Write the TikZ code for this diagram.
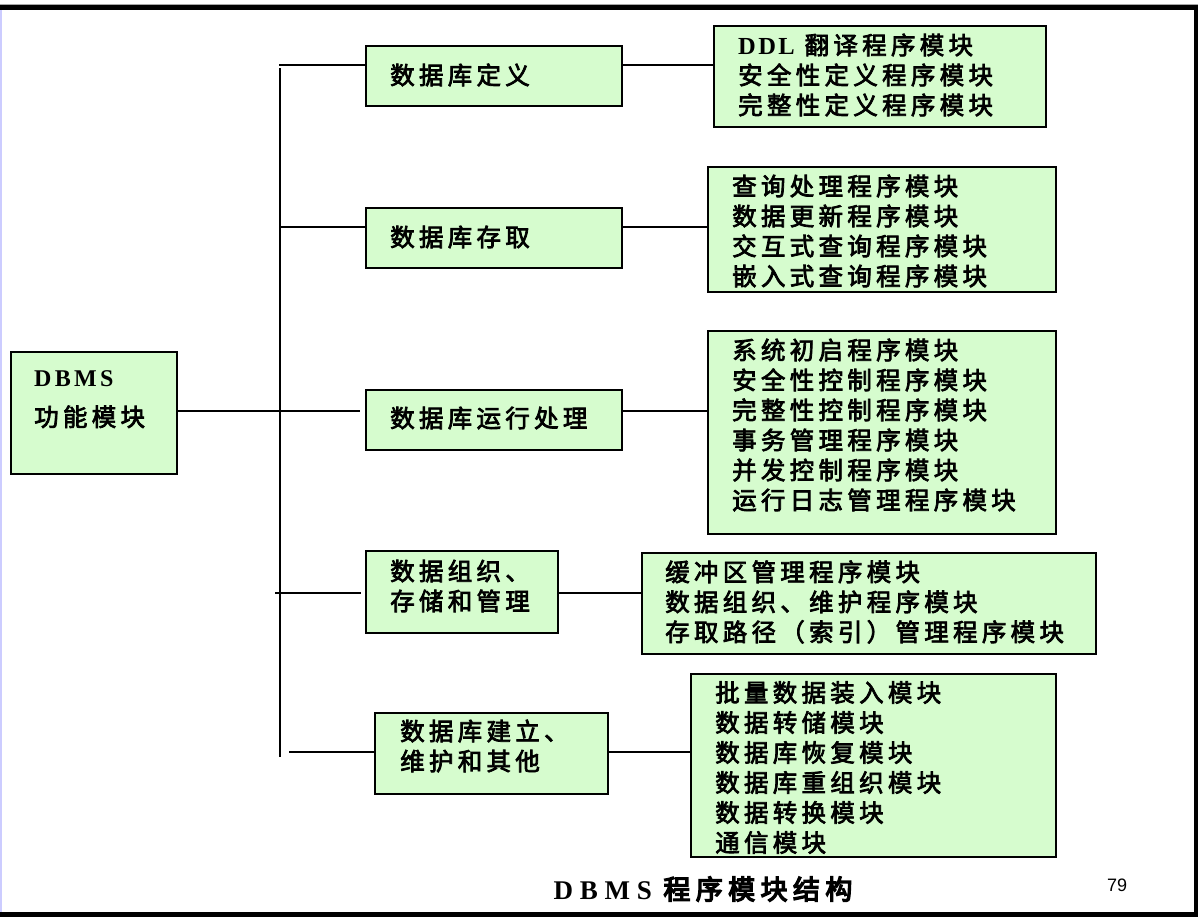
\documentclass[tikz,border=0pt]{standalone}
\usepackage{fontspec}
\setmainfont{Noto Sans CJK SC}[LetterSpace=17.5, FakeBold=3]
\newfontfamily\lat{Liberation Serif}[LetterSpace=10]
\newfontfamily\numfont{Liberation Sans}
\definecolor{boxgreen}{RGB}{214,252,206}
\definecolor{lavender}{RGB}{204,204,255}
\tikzset{
  box/.style={draw=black, line width=1.6pt, fill=boxgreen, anchor=north west, inner sep=0pt},
  txt/.style={anchor=west, inner sep=0pt, align=left, font=\fontsize{24.5}{30}\selectfont},
  conn/.style={line width=1.4pt, draw=black}
}
\begin{document}
\begin{tikzpicture}[x=1pt,y=-1pt]
\useasboundingbox (0,0) rectangle (1198,918);
% frame
\fill[gray!70] (0,3.5) rectangle (1198,5);
\fill[black] (0,4.5) rectangle (1198,9.5);
\fill[black] (1194,4.5) rectangle (1198,917);
\fill[black] (0,912) rectangle (1198,917);
\fill[lavender] (0,9.5) rectangle (2.2,912);

% root
\node[box, minimum width=166pt, minimum height=122pt] (root) at (10,351) {};
\node[txt, anchor=north west, font=\fontsize{24.5}{40}\selectfont] (troot) at (34,370) {{\lat\bfseries\fontsize{24}{40}\selectfont\addfontfeature{LetterSpace=14}DBMS}\\功能模块};

% level 1
\node[box, minimum width=256pt, minimum height=60pt] (b1) at (365,45) {};
\node[txt] (tb1) at (390,75) {数据库定义};
\node[box, minimum width=256pt, minimum height=60pt] (b2) at (365,207) {};
\node[txt] (tb2) at (390,237) {数据库存取};
\node[box, minimum width=256pt, minimum height=60pt] (b3) at (365,389) {};
\node[txt] (tb3) at (390,418) {数据库运行处理};
\node[box, minimum width=192pt, minimum height=82pt] (b4) at (365,550) {};
\node[txt] (tb4) at (390,586) {数据组织、\\存储和管理};
\node[box, minimum width=233pt, minimum height=81pt] (b5) at (374,712) {};
\node[txt] (tb5) at (400,746) {数据库建立、\\维护和其他};

% level 2
\node[box, minimum width=332pt, minimum height=101pt] (a1) at (713,25) {};
\node[txt] (ta1) at (738,75) {{\lat\bfseries DDL} 翻译程序模块\\安全性定义程序模块\\完整性定义程序模块};
\node[box, minimum width=348pt, minimum height=125pt] (a2) at (707,166) {};
\node[txt] (ta2) at (732,231) {查询处理程序模块\\数据更新程序模块\\交互式查询程序模块\\嵌入式查询程序模块};
\node[box, minimum width=348pt, minimum height=203pt] (a3) at (707,330) {};
\node[txt] (ta3) at (732,425) {系统初启程序模块\\安全性控制程序模块\\完整性控制程序模块\\事务管理程序模块\\并发控制程序模块\\运行日志管理程序模块};
\node[box, minimum width=454pt, minimum height=101pt] (a4) at (641,552) {};
\node[txt] (ta4) at (665,602) {缓冲区管理程序模块\\数据组织、维护程序模块\\存取路径（索引）管理程序模块};
\node[box, minimum width=365pt, minimum height=183pt] (a5) at (690,673) {};
\node[txt] (ta5) at (715,767.5) {批量数据装入模块\\数据转储模块\\数据库恢复模块\\数据库重组织模块\\数据转换模块\\通信模块};

% connectors
\coordinate (trunkTop) at (280,68);
\coordinate (trunkBot) at (280,757);
\draw[conn] (trunkTop) -- (trunkBot);
\coordinate (h1) at (279,65);
\draw[conn] (h1) -- (h1 -| b1.west);
\draw[conn] (b1.east |- h1) -- (a1.west |- h1);
\coordinate (h2) at (280,227);
\draw[conn] (h2) -- (h2 -| b2.west);
\draw[conn] (b2.east |- h2) -- (a2.west |- h2);
\coordinate (h3) at (360,411);
\draw[conn] (root.east |- h3) -- (h3);
\draw[conn] (b3.east |- h3) -- (a3.west |- h3);
\coordinate (h4a) at (275,593);
\coordinate (h4b) at (361,593);
\draw[conn] (h4a) -- (h4b);
\coordinate (h4c) at (643,593);
\draw[conn] (b4.east |- h4c) -- (h4c);
\coordinate (h5) at (289,752);
\draw[conn] (h5) -- (h5 -| b5.west);
\draw[conn] (b5.east |- h5) -- (a5.west |- h5);

% caption
\node[inner sep=0pt, font=\fontsize{27}{30}\selectfont\addfontfeature{LetterSpace=20,FakeBold=5}] (title) at (703,889) {{\lat\bfseries\addfontfeature{LetterSpace=25} DBMS} 程序模块结构};
\node[inner sep=0pt, font=\numfont\fontsize{18}{20}\selectfont] (pnum) at (1117,885) {79};
\end{tikzpicture}
\end{document}
